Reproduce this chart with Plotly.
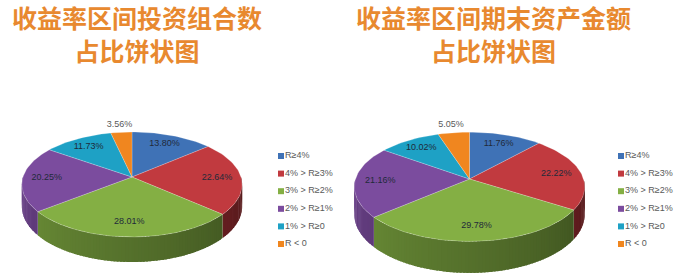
import numpy as np
import plotly.graph_objects as go

# ---------------- data ----------------
legend_labels = ["R≥4%", "4% > R≥3%", "3% > R≥2%", "2% > R≥1%", "1% > R≥0", "R < 0"]
left_values = [13.80, 22.64, 28.01, 20.25, 11.73, 3.56]
right_values = [11.76, 22.22, 29.78, 21.16, 10.02, 5.05]
left_title = "收益率区间投资组合数<br>占比饼状图"
right_title = "收益率区间期末资产金额<br>占比饼状图"

# ---------------- style ----------------
colors = ["#3F72B6", "#C13A3F", "#84AF44", "#7B4C9E", "#1EA1C5", "#F0861F"]
W, H = 684, 278
D = 7.0  # perspective distance (in units of radius)

pies = [
    dict(values=left_values, title=left_title, cx=132, cy=177, rx=109, ry=51.4, h=21.5,
         title_x=137, legend_x=281),
    dict(values=right_values, title=right_title, cx=469.5, cy=179, rx=114, ry=53.5, h=27,
         title_x=493, legend_x=621),
]


def hex_rgb(c):
    c = c.lstrip("#")
    return [int(c[i:i + 2], 16) for i in (0, 2, 4)]


def shade(c, f):
    r, g, b = hex_rgb(c)
    return "rgb(%d,%d,%d)" % (min(255, r * f), min(255, g * f), min(255, b * f))


def proj(cfg, th, f=1.0, drop=0.0):
    X = f * np.sin(th)
    Z = f * np.cos(th)
    p = D / (D + Z)
    x = cfg["cx"] + cfg["rx"] * X * p
    y = cfg["cy"] - cfg["ry"] * Z * p + drop * p
    return x, y


fig = go.Figure()
annotations = []

for cfg in pies:
    vals = np.array(cfg["values"], dtype=float)
    frac = vals / vals.sum()
    bounds = np.concatenate([[0], np.cumsum(frac)]) * 2 * np.pi  # clockwise from top

    # side walls (front half only), drawn as finely shaded, overlapping strips
    step = np.radians(1.5)
    for i in range(len(vals)):
        a0 = max(bounds[i], np.pi / 2)
        a1 = min(bounds[i + 1], 3 * np.pi / 2)
        if a1 <= a0:
            continue
        n = max(2, int(np.ceil((a1 - a0) / step)))
        edges = np.linspace(a0, a1, n + 1)
        for k in range(n):
            t0 = edges[k]
            t1 = min(edges[k + 1] + 0.6 * step, a1)
            tm = 0.5 * (edges[k] + edges[k + 1])
            tt = (tm - np.pi / 2) / np.pi  # 0 at right, 1 at left
            col = shade(colors[i], 0.42 + 0.45 * tt)
            arc = np.linspace(t0, t1, 3)
            xt, yt = proj(cfg, arc)
            xb, yb = proj(cfg, arc[::-1], drop=cfg["h"])
            fig.add_trace(go.Scatter(
                x=np.concatenate([xt, xb, xt[:1]]), y=np.concatenate([yt, yb, yt[:1]]),
                mode="lines", fill="toself", fillcolor=col,
                line=dict(color=col, width=0), hoverinfo="skip", showlegend=False))

    # top surface slices
    for i in range(len(vals)):
        arc = np.linspace(bounds[i], bounds[i + 1], max(8, int(frac[i] * 200)))
        xa, ya = proj(cfg, arc)
        xs = np.concatenate([[cfg["cx"]], xa, [cfg["cx"]]])
        ys = np.concatenate([[cfg["cy"]], ya, [cfg["cy"]]])
        fig.add_trace(go.Scatter(
            x=xs, y=ys, mode="lines", fill="toself", fillcolor=colors[i],
            line=dict(color="rgba(255,255,255,0.35)", width=0.6),
            name=legend_labels[i], hoverinfo="name", showlegend=False))

    # percentage labels
    mids = 0.5 * (bounds[:-1] + bounds[1:])
    lx, ly, lt, lc = [], [], [], []
    for i in range(len(vals)):
        outside = vals[i] < 6
        x, y = proj(cfg, mids[i], f=1.2 if outside else 0.78)
        lx.append(x); ly.append(y)
        lt.append("%.2f%%" % vals[i])
        lc.append("#595959" if outside else "#1f2a3a")
    fig.add_trace(go.Scatter(
        x=lx, y=ly, mode="text", text=lt,
        textfont=dict(family="Liberation Sans, Arial", size=9, color=lc),
        textposition="middle center", hoverinfo="skip", showlegend=False))

    # legend (square markers + text)
    ys_leg = 156 + 17.6 * np.arange(len(legend_labels))
    fig.add_trace(go.Scatter(
        x=[cfg["legend_x"]] * len(legend_labels), y=ys_leg, mode="markers",
        marker=dict(symbol="square", size=6, color=colors, line=dict(width=0)),
        hoverinfo="skip", showlegend=False))
    fig.add_trace(go.Scatter(
        x=[cfg["legend_x"] + 4] * len(legend_labels), y=ys_leg, mode="text",
        text=legend_labels, textposition="middle right",
        textfont=dict(family="Liberation Sans, Arial", size=9, color="#595959"),
        hoverinfo="skip", showlegend=False))

    # title
    annotations.append(dict(
        x=cfg["title_x"], y=33, xref="x", yref="y", text="<b>" + cfg["title"] + "</b>",
        showarrow=False, xanchor="center", yanchor="middle", align="center",
        font=dict(family="Noto Sans CJK SC", size=25, color="#E8892F")))

fig.update_layout(
    width=W, height=H, margin=dict(l=0, r=0, t=0, b=0),
    paper_bgcolor="white", plot_bgcolor="white",
    xaxis=dict(range=[0, W], visible=False, fixedrange=True),
    yaxis=dict(range=[H, 0], visible=False, fixedrange=True),
    annotations=annotations, showlegend=False,
)

fig.write_html("out.html")
